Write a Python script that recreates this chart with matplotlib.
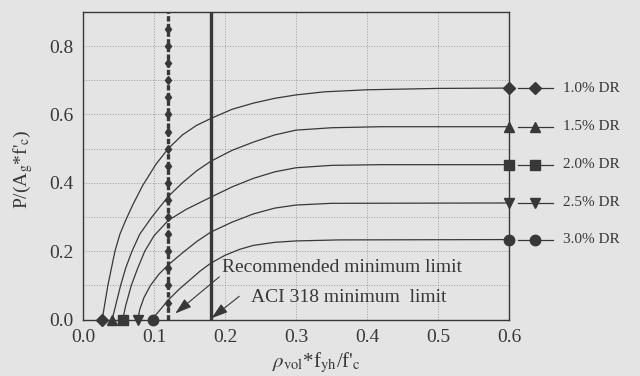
import numpy as np
import matplotlib
matplotlib.use("Agg")
import matplotlib.pyplot as plt

plt.rcParams['font.family'] = ['Liberation Serif', 'DejaVu Serif']
plt.rcParams['mathtext.fontset'] = 'stix'

# curves: x = rho_vol*fyh/f'c , y = P/(Ag*f'c)
labels = ["1.0% DR", "1.5% DR", "2.0% DR", "2.5% DR", "3.0% DR"]
markers = ["D", "^", "s", "v", "o"]

x10 = [0.027, 0.031, 0.035, 0.040, 0.045, 0.052, 0.060, 0.070, 0.084, 0.103, 0.120,
       0.140, 0.160, 0.180, 0.210, 0.240, 0.270, 0.300, 0.340, 0.400, 0.500, 0.600]
y10 = [0.0, 0.05, 0.10, 0.15, 0.20, 0.25, 0.29, 0.335, 0.392, 0.455, 0.50,
       0.54, 0.568, 0.588, 0.615, 0.633, 0.647, 0.657, 0.666, 0.672, 0.676, 0.677]

x15 = [0.041, 0.047, 0.053, 0.060, 0.069, 0.080, 0.097, 0.120, 0.140, 0.160, 0.180,
       0.210, 0.240, 0.270, 0.300, 0.350, 0.420, 0.500, 0.600]
y15 = [0.0, 0.05, 0.10, 0.15, 0.20, 0.25, 0.30, 0.36, 0.40, 0.435, 0.463,
       0.495, 0.519, 0.540, 0.554, 0.561, 0.564, 0.564, 0.564]

x20 = [0.056, 0.060, 0.068, 0.077, 0.087, 0.100, 0.120, 0.145, 0.180, 0.210,
       0.240, 0.270, 0.300, 0.350, 0.420, 0.600]
y20 = [0.0, 0.04, 0.10, 0.15, 0.20, 0.245, 0.29, 0.322, 0.358, 0.388,
       0.413, 0.432, 0.444, 0.451, 0.453, 0.453]

x25 = [0.077, 0.080, 0.086, 0.095, 0.107, 0.120, 0.140, 0.160, 0.180, 0.210,
       0.240, 0.270, 0.300, 0.350, 0.600]
y25 = [0.0, 0.03, 0.065, 0.10, 0.133, 0.16, 0.195, 0.228, 0.256, 0.285,
       0.309, 0.326, 0.335, 0.340, 0.341]

x30 = [0.098, 0.103, 0.110, 0.120, 0.135, 0.150, 0.165, 0.180, 0.200, 0.220,
       0.240, 0.270, 0.300, 0.360, 0.600]
y30 = [0.0, 0.015, 0.032, 0.057, 0.088, 0.115, 0.142, 0.165, 0.188, 0.205,
       0.217, 0.226, 0.230, 0.233, 0.234]

xs = [x10, x15, x20, x25, x30]
ys = [y10, y15, y20, y25, y30]

recommended = 0.12
aci = 0.18

ink = "#383838"
bg = "#e4e4e4"
sizes = {"D": 6.5, "s": 7, "^": 7.5, "v": 7.5, "o": 7.5}

fig = plt.figure(figsize=(6.4, 3.76), dpi=100, facecolor=bg)
ax = fig.add_axes([0.1297, 0.150, 0.6656, 0.8186], facecolor=bg)

for x, y, m, lab in zip(xs, ys, markers, labels):
    ms = sizes[m]
    ax.plot(x, y, color=ink, lw=0.9, marker=m, markevery=[0, len(x) - 1],
            ms=ms, mfc=ink, mec=ink, clip_on=False, zorder=4)
    # legend entry beside the curve end
    ax.plot([0.612, 0.662], [y[-1], y[-1]], color=ink, lw=0.9, clip_on=False)
    ax.plot([0.637], [y[-1]], marker=m, ms=ms, color=ink, clip_on=False)
    ax.text(0.676, y[-1], lab, fontsize=11, color=ink, va="center", ha="left")

# minimum limits
ax.plot([recommended, recommended], [0, 0.9], color=ink, lw=2.4,
        ls=(0, (1.6, 0.7)), zorder=3)
ax.plot([recommended] * 17, np.linspace(0.05, 0.85, 17), ls="none", marker="d",
        ms=4.5, color=ink, zorder=3)
ax.plot([aci, aci], [0, 0.9], color=ink, lw=2.4, zorder=3)

arrow = dict(arrowstyle="-|>,head_length=1.0,head_width=0.32",
             color=ink, lw=0.8, shrinkA=0, shrinkB=0)
ax.text(0.196, 0.153, "Recommended minimum limit", fontsize=14, color=ink,
        va="center", ha="left")
ax.annotate("", xy=(0.13, 0.018), xytext=(0.192, 0.125), arrowprops=arrow)
ax.text(0.237, 0.066, "ACI 318 minimum  limit", fontsize=14, color=ink,
        va="center", ha="left")
ax.annotate("", xy=(0.181, 0.004), xytext=(0.22, 0.068), arrowprops=arrow)

ax.set_xlim(0, 0.6)
ax.set_ylim(0, 0.9)
ax.set_xticks([0.0, 0.1, 0.2, 0.3, 0.4, 0.5, 0.6])
ax.set_xticklabels(["0.0", "0.1", "0.2", "0.3", "0.4", "0.5", "0.6"])
ax.set_yticks([0.0, 0.2, 0.4, 0.6, 0.8])
ax.set_yticklabels(["0.0", "0.2", "0.4", "0.6", "0.8"])
ax.set_yticks([0.1, 0.3, 0.5, 0.7], minor=True)
ax.tick_params(which="both", length=0, labelsize=14, colors=ink, pad=7)
ax.grid(True, which="both", color="#8f8f8f", ls=(0, (1.2, 2)), lw=0.6)
for s in ax.spines.values():
    s.set_color(ink)
    s.set_linewidth(1.0)

ax.set_ylabel(r"P/(A$_{\rm g}$*f$'_{\rm c}$)", fontsize=14, color=ink)
ax.yaxis.set_label_coords(-0.113, 0.49)
ax.set_xlabel(r"$\rho_{\rm vol}$*f$_{\rm yh}$/f$'_{\rm c}$", fontsize=15, color=ink)
ax.xaxis.set_label_coords(0.547, -0.1)

fig.savefig("out.png", dpi=100, facecolor=bg)
